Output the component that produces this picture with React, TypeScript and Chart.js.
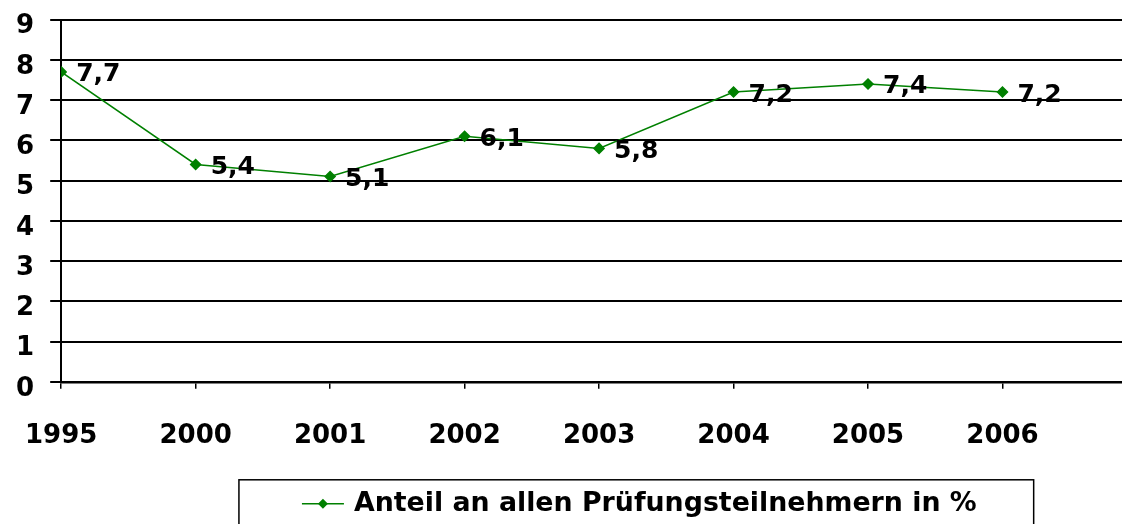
import { useEffect, useRef } from "react";
import { Chart, registerables } from "chart.js";

Chart.register(...registerables);

const categories = ["1995", "2000", "2001", "2002", "2003", "2004", "2005", "2006"];
const values = [7.7, 5.4, 5.1, 6.1, 5.8, 7.2, 7.4, 7.2];
const valueLabels = ["7,7", "5,4", "5,1", "6,1", "5,8", "7,2", "7,4", "7,2"];
const seriesName = "Anteil an allen Prüfungsteilnehmern in %";
const yMin = 0;
const yMax = 9;

const GREEN = "#008000";
const FONT = "'DejaVu Sans', 'Liberation Sans', Arial, sans-serif";

const dataLabelPlugin = {
  id: "dataLabels",
  afterDatasetsDraw(chart: any) {
    const ctx = chart.ctx;
    const meta = chart.getDatasetMeta(0);
    ctx.save();
    ctx.font = `bold 25px ${FONT}`;
    ctx.fillStyle = "#000";
    ctx.textAlign = "left";
    ctx.textBaseline = "middle";
    meta.data.forEach((pt: any, i: number) => {
      ctx.fillText(valueLabels[i], pt.x + 15, pt.y + 3);
    });
    ctx.restore();
  },
};

const boxedLegendPlugin = {
  id: "boxedLegend",
  afterDraw(chart: any) {
    const ctx = chart.ctx;
    const area = chart.chartArea;
    const meta = chart.getDatasetMeta(0);
    const color = chart.data.datasets[0].borderColor;
    const text = chart.data.datasets[0].label;
    ctx.save();
    ctx.font = `bold 26.8px ${FONT}`;
    const tw = ctx.measureText(text).width;
    const symW = 42;
    const gap = 10;
    const itemW = symW + gap + tw;
    const cx = (meta.data[4].x + meta.data[5].x) / 2 - 27;
    const x0 = cx - itemW / 2;
    const yMid = area.bottom + 122;
    // border
    ctx.strokeStyle = "#000";
    ctx.lineWidth = 1.5;
    const bl = x0 - 63;
    const br = x0 + itemW + 57;
    const bt = yMid - 24;
    ctx.strokeRect(bl, bt, br - bl, 200);
    // symbol
    ctx.strokeStyle = color;
    ctx.lineWidth = 1.5;
    ctx.beginPath();
    ctx.moveTo(x0, yMid);
    ctx.lineTo(x0 + symW, yMid);
    ctx.stroke();
    ctx.fillStyle = color;
    const dx = x0 + symW / 2;
    ctx.beginPath();
    ctx.moveTo(dx, yMid - 5);
    ctx.lineTo(dx + 5, yMid);
    ctx.lineTo(dx, yMid + 5);
    ctx.lineTo(dx - 5, yMid);
    ctx.closePath();
    ctx.fill();
    // text
    ctx.fillStyle = "#000";
    ctx.textAlign = "left";
    ctx.textBaseline = "middle";
    ctx.fillText(text, x0 + symW + gap, yMid);
    ctx.restore();
  },
};

export default function App() {
  const ref = useRef<HTMLCanvasElement | null>(null);

  useEffect(() => {
    if (!ref.current) return;
    const chart = new Chart(ref.current, {
      type: "line",
      data: {
        datasets: [
          {
            label: seriesName,
            data: values.map((v, i) => ({ x: i, y: v })),
            borderColor: GREEN,
            backgroundColor: GREEN,
            borderWidth: 1.5,
            pointStyle: "rectRot",
            pointRadius: 5,
            pointBackgroundColor: GREEN,
            pointBorderColor: GREEN,
            tension: 0,
          },
        ],
      },
      options: {
        responsive: false,
        animation: false,
        devicePixelRatio: 1,
        layout: { padding: { left: 0, right: 0, top: 0, bottom: 40 } },
        scales: {
          x: {
            type: "linear",
            min: 0,
            max: 7.9,
            afterBuildTicks: (scale: any) => {
              scale.ticks = categories.map((_, i) => ({ value: i }));
            },
            ticks: {
              stepSize: 1,
              autoSkip: false,
              maxRotation: 0,
              padding: 32,
              color: "#000",
              font: { family: FONT, size: 26, weight: "bold" },
              callback: (v: any) => categories[v as number] ?? "",
            },
            grid: {
              drawOnChartArea: false,
              drawTicks: true,
              tickLength: 7,
              color: "#000",
              lineWidth: 1.5,
            },
            border: { display: true, color: "#000", width: 2.5 },
          },
          y: {
            min: yMin,
            max: yMax,
            ticks: {
              stepSize: 1,
              padding: 16,
              labelOffset: 7,
              color: "#000",
              font: { family: FONT, size: 26, weight: "bold" },
            },
            grid: {
              color: "#000",
              lineWidth: 2,
              tickLength: 11,
            },
            border: { display: true, color: "#000", width: 2 },
          },
        },
        plugins: {
          tooltip: { enabled: false },
          legend: { display: false },
        },
      },
      plugins: [dataLabelPlugin, boxedLegendPlugin],
    } as any);
    return () => chart.destroy();
  }, []);

  return (
    <div style={{ position: "fixed", left: 0, top: 0, width: 1122, height: 524, overflow: "hidden", background: "#fff" }}>
      <canvas
        ref={ref}
        width={1137}
        height={536}
        style={{ display: "block", position: "absolute", left: -7, top: -12 }}
      />
    </div>
  );
}
